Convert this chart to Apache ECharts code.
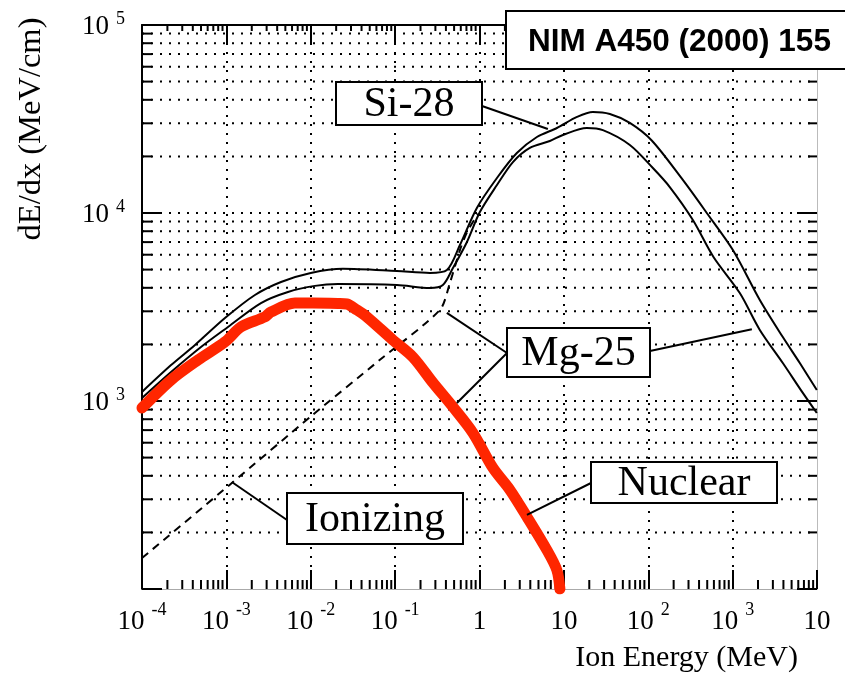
<!DOCTYPE html>
<html>
<head>
<meta charset="utf-8">
<script src="https://cdn.jsdelivr.net/npm/echarts@6/dist/echarts.min.js"></script>
<style>
html, body { margin: 0; padding: 0; background: #fff; }
#chart { width: 845px; height: 674px; }
</style>
</head>
<body>
<div id="chart"></div>
<script>
// energy in MeV, stopping power dE/dx in MeV/cm
var si28Energy = [1e-4, 2.21e-4, 4.25e-4, 9.62e-4, 2.18e-3, 4.44e-3, 0.01, 0.024, 0.105, 0.258, 0.411, 0.586, 0.931, 1.61, 2.77, 4.79, 8.26, 14.3, 22.1, 35.1, 60.5, 110, 257, 494, 1007, 2100, 3934, 6256, 9950];
var si28Total  = [1117, 1552, 1986, 2762, 3664, 4297, 4797, 5050, 4910, 4800, 4975, 6761, 10640, 15350, 20840, 25360, 28320, 32430, 34450, 33620, 30140, 24300, 14990, 10000, 6355, 3446, 2188, 1592, 1145];

var mg25Energy = [1e-4, 2.21e-4, 5.0e-4, 1.045e-3, 2.57e-3, 5.37e-3, 0.0112, 0.021, 0.105, 0.258, 0.368, 0.484, 0.710, 1.01, 1.61, 2.49, 3.95, 6.82, 9.73, 18.7, 29.0, 60.5, 113.5, 180, 338, 593, 1216, 2100, 3934, 6792, 9950];
var mg25Total  = [1037, 1426, 1937, 2477, 3319, 3802, 4096, 4189, 4140, 3992, 4140, 5093, 7015, 10120, 14090, 18660, 22190, 24140, 26000, 28320, 27600, 23010, 17340, 13740, 9180, 5834, 3750, 2388, 1592, 1104, 863];

var ionEnergy = [1e-4, 1.1e-3, 0.0103, 0.066, 0.34, 0.446, 0.586, 0.71, 0.96];
var ionizing  = [146, 359, 836, 1656, 3055, 4250, 6350, 7900, 9900];

var nucEnergy = [1e-4, 2.21e-4, 4.61e-4, 9.62e-4, 1.49e-3, 2.86e-3, 3.37e-3, 6.5e-3, 0.0106, 0.021, 0.0268, 0.0352, 0.0463, 0.0942, 0.163, 0.281, 0.484, 0.836, 1.44, 2.29, 3.65, 6.30, 8.26, 8.97];
var nuclear   = [918, 1294, 1652, 2061, 2477, 2800, 2972, 3319, 3320, 3300, 3280, 3050, 2800, 2110, 1710, 1250, 930, 676, 441, 337, 242, 161, 126, 100];

var xTicks = [1e-4, 1e-3, 1e-2, 1e-1, 1, 10, 1e2, 1e3, 1e4];
var xTickBase = ['10', '10', '10', '10', '1', '10', '10', '10', '10'];
var xTickSup  = ['-4', '-3', '-2', '-1', '', '', '2', '3', ''];
var yTicks = [1e2, 1e3, 1e4, 1e5];
var yTickBase = ['', '10', '10', '10'];
var yTickSup  = ['', '3', '4', '5'];

var xMinor = [];
var yMinor = [];
xTicks.slice(0, -1).forEach(function (d) { for (var k = 2; k <= 9; k++) xMinor.push(d * k); });
yTicks.slice(0, -1).forEach(function (d) { for (var k = 2; k <= 9; k++) yMinor.push(d * k); });

function pairs(xs, ys) { return xs.map(function (x, i) { return [x, ys[i]]; }); }

function tickLabel(ticks, bases, sups) {
  return function (v) {
    for (var i = 0; i < ticks.length; i++) {
      if (Math.abs(Math.log10(v) - Math.log10(ticks[i])) < 1e-6) {
        if (!bases[i]) return '';
        return '{b|' + bases[i] + '}' + (sups[i] ? '{s|' + sups[i] + '}' : '');
      }
    }
    return '';
  };
}

var serif = '"Liberation Serif", "Times New Roman", serif';
var dotted = [2, 7];
var chart = echarts.init(document.getElementById('chart'));

chart.setOption({
  animation: false,
  backgroundColor: '#fff',
  grid: { left: 142, right: 28, top: 25, bottom: 85 },
  xAxis: [{
    type: 'log', logBase: 10, min: 1e-4, max: 1e4, position: 'bottom',
    axisLine: { show: true, lineStyle: { color: '#aaa', width: 1 } },
    axisTick: { show: true, inside: true, length: 19, lineStyle: { color: '#000', width: 2 } },
    splitLine: { show: true, showMinLine: false, showMaxLine: false, lineStyle: { color: '#000', width: 2, type: dotted } },
    axisLabel: {
      margin: 12, formatter: tickLabel(xTicks, xTickBase, xTickSup),
      rich: {
        b: { fontFamily: serif, fontSize: 27, lineHeight: 30, padding: [12, 0, 0, 0], color: '#000' },
        s: { fontFamily: serif, fontSize: 18, lineHeight: 18, padding: [0, 0, 0, 7], verticalAlign: 'top', color: '#000' }
      }
    }
  }, {
    type: 'log', logBase: 10, min: 1e-4, max: 1e4, position: 'top',
    axisLine: { show: true, lineStyle: { color: '#000', width: 2 } },
    axisTick: { show: true, inside: true, length: 20, lineStyle: { color: '#000', width: 2 } },
    axisLabel: { show: false },
    splitLine: { show: false }
  }],
  yAxis: [{
    type: 'log', logBase: 10, min: 100, max: 1e5, position: 'left',
    axisLine: { show: true, lineStyle: { color: '#000', width: 2 } },
    axisTick: { show: true, inside: true, length: 20, lineStyle: { color: '#000', width: 2 } },
    splitLine: { show: true, showMinLine: false, showMaxLine: false, lineStyle: { color: '#000', width: 2, type: dotted } },
    axisLabel: {
      margin: 17, formatter: tickLabel(yTicks, yTickBase, yTickSup),
      rich: {
        b: { fontFamily: serif, fontSize: 27, lineHeight: 30, padding: [4, 0, 0, 0], color: '#000' },
        s: { fontFamily: serif, fontSize: 18, lineHeight: 18, padding: [0, 0, 0, 7], verticalAlign: 'top', color: '#000' }
      }
    }
  }, {
    type: 'log', logBase: 10, min: 100, max: 1e5, position: 'right',
    axisLine: { show: true, lineStyle: { color: '#bbb', width: 1 } },
    axisTick: { show: true, inside: true, length: 20, lineStyle: { color: '#000', width: 2 } },
    axisLabel: { show: false },
    splitLine: { show: false }
  }],
  series: [
    {
      // minor horizontal grid + minor ticks left/right
      type: 'custom', xAxisIndex: 0, yAxisIndex: 0, z: 1, silent: true, clip: false,
      data: yMinor.map(function (v) { return [xTicks[0], v]; }),
      renderItem: function (params, api) {
        var cs = params.coordSys;
        var y = api.coord([api.value(0), api.value(1)])[1];
        return { type: 'group', children: [
          { type: 'line', shape: { x1: cs.x, y1: y, x2: cs.x + cs.width, y2: y }, style: { stroke: '#000', lineWidth: 2, lineDash: dotted } },
          { type: 'line', shape: { x1: cs.x, y1: y, x2: cs.x + 10, y2: y }, style: { stroke: '#000', lineWidth: 2 } },
          { type: 'line', shape: { x1: cs.x + cs.width - 9, y1: y, x2: cs.x + cs.width, y2: y }, style: { stroke: '#000', lineWidth: 2 } }
        ] };
      }
    },
    {
      // minor ticks bottom/top
      type: 'custom', xAxisIndex: 0, yAxisIndex: 0, z: 1, silent: true, clip: false,
      data: xMinor.map(function (v) { return [v, yTicks[0]]; }),
      renderItem: function (params, api) {
        var cs = params.coordSys;
        var x = api.coord([api.value(0), api.value(1)])[0];
        var yb = cs.y + cs.height;
        return { type: 'group', children: [
          { type: 'line', shape: { x1: x, y1: yb, x2: x, y2: yb - 9 }, style: { stroke: '#000', lineWidth: 2 } },
          { type: 'line', shape: { x1: x, y1: cs.y, x2: x, y2: cs.y + 6 }, style: { stroke: '#000', lineWidth: 2 } }
        ] };
      }
    },
    {
      name: 'Si-28', type: 'line', data: pairs(si28Energy, si28Total), z: 3,
      showSymbol: false, smooth: 0.3,
      lineStyle: { color: '#000', width: 2 }
    },
    {
      name: 'Mg-25', type: 'line', data: pairs(mg25Energy, mg25Total), z: 3,
      showSymbol: false, smooth: 0.3,
      lineStyle: { color: '#000', width: 2 }
    },
    {
      name: 'Ionizing', type: 'line', data: pairs(ionEnergy, ionizing), z: 3,
      showSymbol: false, smooth: 0.25,
      lineStyle: { color: '#000', width: 2, type: [8, 6] }
    },
    {
      name: 'Nuclear', type: 'line', data: pairs(nucEnergy, nuclear), z: 4,
      showSymbol: false, smooth: 0.3,
      lineStyle: { color: '#ff2600', width: 11, cap: 'round', join: 'round' }
    }
  ]
});

// annotation boxes, leaders point at data coordinates
var boxes = [
  { text: 'Si-28', x: 336, y: 82, w: 146, h: 43 },
  { text: 'Mg-25', x: 507, y: 328, w: 143, h: 49 },
  { text: 'Nuclear', x: 591, y: 462, w: 186, h: 41 },
  { text: 'Ionizing', x: 287, y: 493, w: 176, h: 51 }
];
var leaders = [
  { from: [482, 106], to: [6.46, 28000] },
  { from: [507, 353], to: [0.41, 2940] },
  { from: [507, 353], to: [0.54, 975] },
  { from: [650, 351], to: [1690, 2410] },
  { from: [591, 483], to: [3.65, 248] },
  { from: [287, 520], to: [1.16e-3, 371] }
];

var g = [];
leaders.forEach(function (l) {
  var p = chart.convertToPixel({ gridIndex: 0 }, l.to);
  g.push({ type: 'line', z: 10, shape: { x1: l.from[0], y1: l.from[1], x2: p[0], y2: p[1] }, style: { stroke: '#000', lineWidth: 2 } });
});
boxes.forEach(function (b) {
  g.push({ type: 'rect', z: 11, shape: { x: b.x, y: b.y, width: b.w, height: b.h }, style: { fill: '#fff', stroke: '#000', lineWidth: 2 } });
  g.push({ type: 'text', z: 12, style: { text: b.text, x: b.x + b.w / 2, y: b.y + b.h / 2 + 1, font: '42px ' + serif, fill: '#000', textAlign: 'center', textVerticalAlign: 'middle' } });
});
g.push({ type: 'rect', z: 11, shape: { x: 506, y: 11, width: 345, height: 58 }, style: { fill: '#fff', stroke: '#000', lineWidth: 2 } });
g.push({ type: 'text', z: 12, style: { text: 'NIM A450 (2000) 155', x: 528, y: 42, font: 'bold 31.5px "Liberation Sans", Arial, sans-serif', fill: '#000', textAlign: 'left', textVerticalAlign: 'middle' } });
g.push({ type: 'text', z: 12, style: { text: 'Ion Energy (MeV)', x: 798, y: 658, font: '30px ' + serif, fill: '#000', textAlign: 'right', textVerticalAlign: 'middle' } });
g.push({ type: 'text', z: 12, x: 31, y: 129, rotation: Math.PI / 2, style: { text: 'dE/dx (MeV/cm)', x: 0, y: 0, font: '32.5px ' + serif, fill: '#000', textAlign: 'center', textVerticalAlign: 'middle' } });
chart.setOption({ graphic: { elements: g } });
</script>
</body>
</html>
